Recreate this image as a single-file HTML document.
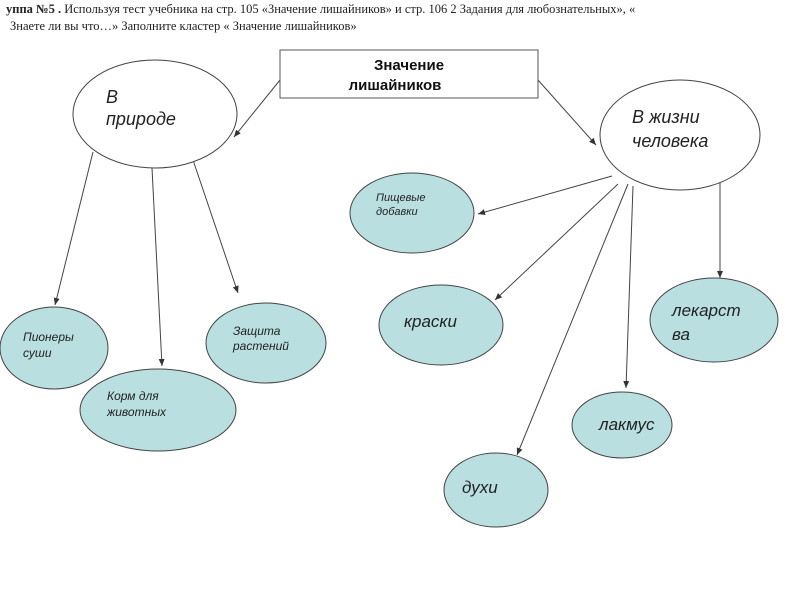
<!DOCTYPE html>
<html><head><meta charset="utf-8"><style>
body{margin:0;background:#fff;width:800px;height:600px;overflow:hidden;position:relative}
.t{position:absolute;left:6px;font-family:"Liberation Serif",serif;font-size:12.5px;color:#222;white-space:nowrap}
</style></head><body>
<div class="t" style="top:2px"><b>уппа №5 .</b> Используя тест учебника на стр. 105 «Значение лишайников» и стр. 106 2 Задания для любознательных», «</div>
<div class="t" style="top:19px;left:10px">Знаете ли вы что…» Заполните кластер « Значение лишайников»</div>
<svg width="800" height="600" style="position:absolute;left:0;top:0" font-family="Liberation Sans, sans-serif">
<defs><marker id="a" markerWidth="8" markerHeight="8" refX="7" refY="4" orient="auto" markerUnits="userSpaceOnUse"><path d="M0,1 L7,4 L0,7 z" fill="#333"/></marker></defs>
<g stroke="#444" stroke-width="1" fill="none" marker-end="url(#a)">
<line x1="280" y1="80" x2="234" y2="137"/>
<line x1="538" y1="80" x2="596" y2="145"/>
<line x1="93" y1="152" x2="55" y2="305"/>
<line x1="152" y1="168" x2="162" y2="366"/>
<line x1="193" y1="160" x2="238" y2="293"/>
<line x1="612" y1="176" x2="478" y2="214"/>
<line x1="618" y1="184" x2="495" y2="300"/>
<line x1="633" y1="186" x2="626" y2="388"/>
<line x1="720" y1="180" x2="720" y2="278"/>
<line x1="628" y1="184" x2="517" y2="455"/>
</g>
<rect x="280" y="50" width="258" height="48" fill="#fff" stroke="#555"/>
<text x="409" y="70" font-size="15" font-weight="bold" text-anchor="middle" fill="#111">Значение</text>
<text x="395" y="90" font-size="15" font-weight="bold" text-anchor="middle" fill="#111">лишайников</text>
<g stroke="#444" stroke-width="1">
<ellipse cx="155" cy="114" rx="82" ry="54" fill="#fff"/>
<ellipse cx="680" cy="135" rx="80" ry="55" fill="#fff"/>
<g fill="#b9dfe1">
<ellipse cx="412" cy="213" rx="62" ry="40"/>
<ellipse cx="441" cy="325" rx="62" ry="40"/>
<ellipse cx="714" cy="320" rx="64" ry="42"/>
<ellipse cx="622" cy="425" rx="50" ry="33"/>
<ellipse cx="496" cy="490" rx="52" ry="37"/>
<ellipse cx="54" cy="348" rx="54" ry="41"/>
<ellipse cx="158" cy="410" rx="78" ry="41"/>
<ellipse cx="266" cy="343" rx="60" ry="40"/>
</g></g>
<g font-style="italic" fill="#222">
<text x="106" y="103" font-size="18">В</text>
<text x="106" y="125" font-size="18">природе</text>
<text x="632" y="123" font-size="18">В жизни</text>
<text x="632" y="147" font-size="18">человека</text>
<text x="376" y="201" font-size="11">Пищевые</text>
<text x="376" y="215" font-size="11">добавки</text>
<text x="404" y="327" font-size="17">краски</text>
<text x="672" y="316" font-size="17">лекарст</text>
<text x="672" y="340" font-size="17">ва</text>
<text x="599" y="430" font-size="17">лакмус</text>
<text x="462" y="493" font-size="17">духи</text>
<text x="23" y="341" font-size="12">Пионеры</text>
<text x="23" y="357" font-size="12">суши</text>
<text x="107" y="400" font-size="12">Корм для</text>
<text x="107" y="416" font-size="12">животных</text>
<text x="233" y="335" font-size="12">Защита</text>
<text x="233" y="350" font-size="12">растений</text>
</g>
</svg>
</body></html>
